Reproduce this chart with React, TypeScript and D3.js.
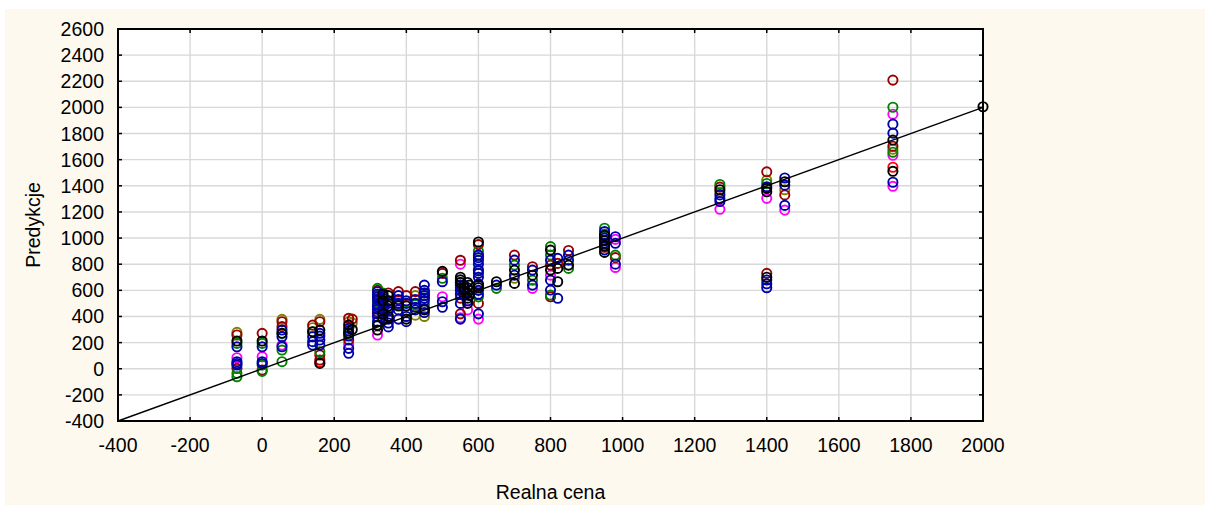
import * as d3 from 'd3'

// [real price, prediction] per model series
const darkRed: [number, number][] = [
  [-70, 258], [-70, 3], [0, 271], [0, -10], [55, 360], [55, 322], [140, 334], [160, 360], [160, 105], [160, 67],
  [240, 386], [240, 220], [250, 380], [320, 600], [320, 570], [320, 436], [335, 450], [350, 580], [378, 590],
  [400, 560], [425, 590], [450, 580], [500, 730], [550, 830], [550, 540], [550, 420], [600, 950], [600, 500],
  [700, 870], [750, 781], [800, 793], [800, 551], [820, 806], [850, 905], [950, 930], [980, 850], [1270, 1390],
  [1400, 1507], [1400, 730], [1450, 1330], [1750, 2209], [1750, 1703],
]
const olive: [number, number][] = [
  [-70, 278], [55, 378], [140, 314], [160, 378], [240, 360], [250, 350], [425, 560], [425, 410], [450, 400],
  [700, 692], [1270, 1350], [1400, 1444], [1450, 1370], [1750, 1680],
]
const green: [number, number][] = [
  [-70, 194], [-70, -35], [-70, -61], [0, 194], [0, 28], [0, -20], [55, 271], [55, 143], [55, 54], [140, 283],
  [160, 130], [240, 271], [320, 615], [320, 560], [320, 513], [320, 334], [335, 580], [335, 490], [350, 400],
  [378, 490], [400, 440], [425, 490], [450, 560], [450, 490], [500, 692], [550, 640], [550, 600], [600, 900],
  [600, 870], [600, 760], [600, 550], [650, 615], [700, 793], [750, 678], [800, 935], [800, 870], [800, 564],
  [850, 768], [950, 1075], [950, 1030], [980, 870], [1270, 1410], [1400, 1418], [1750, 2001], [1750, 1657],
]
const magenta: [number, number][] = [
  [-70, 84], [0, 92], [55, 181], [240, 187], [320, 258], [378, 520], [500, 551], [550, 800], [550, 390],
  [570, 450], [600, 380], [750, 615], [800, 716], [980, 990], [980, 775], [1270, 1220], [1400, 1304],
  [1450, 1214], [1750, 1948], [1750, 1634], [1750, 1396],
]
const red: [number, number][] = [
  [160, 50], [1750, 1542],
]
const blue: [number, number][] = [
  [-70, 168], [-70, 54], [-70, 40], [-70, 28], [0, 168], [0, 54], [0, 40], [55, 296], [55, 245], [55, 168],
  [140, 245], [140, 207], [140, 181], [160, 271], [160, 250], [160, 220], [160, 181], [240, 309], [240, 290],
  [240, 250], [240, 156], [240, 118], [320, 589], [320, 570], [320, 551], [320, 530], [320, 490], [320, 474],
  [320, 455], [320, 420], [320, 398], [320, 360], [335, 560], [335, 540], [335, 500], [335, 460], [335, 420],
  [350, 520], [350, 500], [350, 460], [350, 440], [350, 380], [350, 350], [350, 320], [378, 560], [378, 530],
  [378, 500], [378, 450], [378, 380], [400, 520], [400, 500], [400, 400], [400, 360], [425, 530], [425, 500],
  [425, 470], [425, 450], [450, 640], [450, 600], [450, 580], [450, 560], [450, 540], [450, 520], [450, 460],
  [450, 430], [500, 666], [500, 513], [500, 470], [550, 660], [550, 640], [550, 620], [550, 600], [550, 570],
  [550, 500], [550, 380], [560, 640], [560, 580], [560, 560], [570, 520], [600, 870], [600, 850], [600, 830],
  [600, 800], [600, 750], [600, 730], [600, 700], [600, 650], [600, 600], [600, 570], [600, 420], [650, 640],
  [700, 831], [700, 716], [750, 755], [750, 640], [800, 831], [800, 678], [800, 602], [820, 845], [820, 539],
  [850, 870], [850, 831], [950, 1050], [950, 1020], [950, 1000], [950, 960], [950, 940], [950, 910], [980, 1010],
  [980, 960], [980, 800], [1270, 1330], [1270, 1300], [1270, 1280], [1400, 1393], [1400, 679], [1400, 650],
  [1400, 620], [1450, 1460], [1450, 1405], [1450, 1250], [1750, 1872], [1750, 1803], [1750, 1427],
]
const black: [number, number][] = [
  [-70, 212], [0, 212], [55, 271], [140, 283], [160, 296], [160, 41], [240, 334], [240, 271], [250, 300],
  [320, 330], [320, 296], [335, 570], [335, 520], [335, 420], [335, 380], [350, 560], [350, 520], [350, 480],
  [350, 400], [378, 480], [400, 480], [400, 380], [450, 450], [500, 745], [550, 700], [550, 680], [550, 660],
  [560, 620], [560, 600], [570, 660], [570, 620], [570, 580], [570, 540], [570, 500], [575, 640], [575, 600],
  [575, 560], [600, 970], [600, 640], [600, 620], [650, 666], [700, 755], [700, 653], [750, 716], [800, 908],
  [800, 755], [820, 768], [820, 666], [850, 793], [950, 1020], [950, 980], [950, 940], [950, 890], [1270, 1370],
  [1400, 1380], [1400, 1354], [1400, 700], [1450, 1431], [1750, 1750], [1750, 1511], [2000, 2005],
]

const series = [
  { color: '#ff00ff', points: magenta },
  { color: '#ff0000', points: red },
  { color: '#808000', points: olive },
  { color: '#990000', points: darkRed },
  { color: '#008000', points: green },
  { color: '#0000aa', points: blue },
  { color: '#000000', points: black },
]

const xTicks = d3.range(-400, 2001, 200)
const yTicks = d3.range(-400, 2601, 200)
const fitLine: [number, number][] = [[-400, -400], [2000, 2000]]

const W = 1211
const H = 507
const left = 118
const right = 983
const top = 29
const bottom = 421

export default function App() {
  const x = d3.scaleLinear().domain([-400, 2000]).range([left, right])
  const y = d3.scaleLinear().domain([-400, 2600]).range([bottom, top])
  const font = 'Liberation Sans, Arial, sans-serif'

  return (
    <svg width={W} height={H} style={{ position: 'absolute', left: 0, top: 0, background: '#fff' }}>
      <rect x={5} y={9} width={1200} height={496} fill="#fdf9ef" />
      <rect x={left} y={top} width={right - left} height={bottom - top} fill="#fff" />
      <g stroke="#d8d8d8" strokeWidth={1.4}>
        {xTicks.slice(1, -1).map((t) => (
          <line key={'gx' + t} x1={x(t)} x2={x(t)} y1={top} y2={bottom} />
        ))}
        {yTicks.slice(1, -1).map((t) => (
          <line key={'gy' + t} x1={left} x2={right} y1={y(t)} y2={y(t)} />
        ))}
      </g>
      <g stroke="#000" strokeWidth={1.5}>
        {xTicks.map((t) => (
          <g key={'tx' + t}>
            <line x1={x(t)} x2={x(t)} y1={bottom} y2={bottom - 4} />
            <line x1={x(t)} x2={x(t)} y1={top} y2={top + 4} />
          </g>
        ))}
        {yTicks.map((t) => (
          <g key={'ty' + t}>
            <line x1={left} x2={left + 4} y1={y(t)} y2={y(t)} />
            <line x1={right} x2={right - 4} y1={y(t)} y2={y(t)} />
          </g>
        ))}
      </g>
      <g fill="none" strokeWidth={1.9}>
        {series.map((s, i) => (
          <g key={i} stroke={s.color}>
            {s.points.map((p, j) => (
              <circle key={j} cx={x(p[0])} cy={y(p[1])} r={4.6} />
            ))}
          </g>
        ))}
      </g>
      <path
        d={d3.line<[number, number]>().x((d) => x(d[0])).y((d) => y(d[1]))(fitLine) ?? ''}
        stroke="#000"
        strokeWidth={1.4}
        fill="none"
      />
      <rect x={left} y={top} width={right - left} height={bottom - top} fill="none" stroke="#000" strokeWidth={2} />
      <g fontFamily={font} fontSize={19.5} fill="#000">
        {xTicks.map((t) => (
          <text key={'lx' + t} x={x(t)} y={452} textAnchor="middle">
            {t}
          </text>
        ))}
        {yTicks.map((t) => (
          <text key={'ly' + t} x={104} y={y(t) + 7} textAnchor="end">
            {t}
          </text>
        ))}
        <text x={(left + right) / 2} y={499} textAnchor="middle">
          Realna cena
        </text>
        <text transform={`translate(40, ${(top + bottom) / 2}) rotate(-90)`} textAnchor="middle">
          Predykcje
        </text>
      </g>
    </svg>
  )
}
